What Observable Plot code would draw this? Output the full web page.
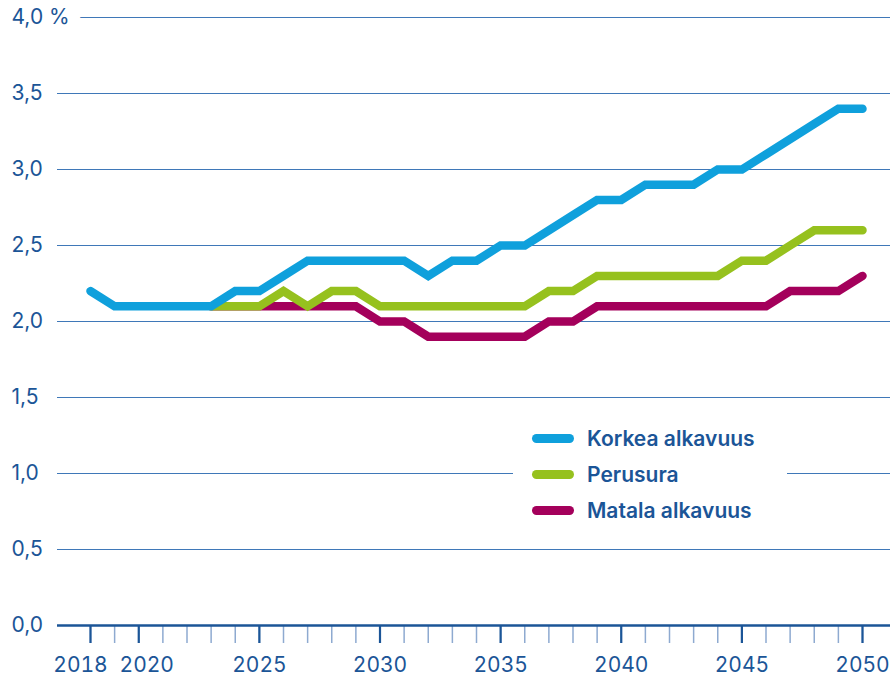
<!DOCTYPE html>
<html>
<head>
<meta charset="utf-8">
<script src="https://cdn.jsdelivr.net/npm/d3@7"></script>
<script src="https://cdn.jsdelivr.net/npm/@observablehq/plot@0.6"></script>
<style>
  html, body { margin: 0; padding: 0; background: #fff; }
  #wrap { position: relative; width: 890px; height: 690px; font-family: Inter, "Noto Sans", sans-serif; }
  #legend { position: absolute; left: 513px; top: 420px; width: 274px; height: 106px; background: #fff; }
  .item { position: absolute; left: 19px; height: 36px; display: flex; align-items: center; }
  .sw { width: 42px; height: 9px; border-radius: 5px; margin-right: 13px; }
  .lab { font-size: 21px; font-weight: 600; color: #1b5597; }
</style>
</head>
<body>
<div id="wrap"><div id="chart"></div><div id="legend"></div></div>
<script>
const years = [2018,2019,2020,2021,2022,2023,2024,2025,2026,2027,2028,2029,2030,2031,2032,2033,2034,2035,2036,2037,2038,2039,2040,2041,2042,2043,2044,2045,2046,2047,2048,2049,2050];
const korkea = [2.2,2.1,2.1,2.1,2.1,2.1,2.2,2.2,2.3,2.4,2.4,2.4,2.4,2.4,2.3,2.4,2.4,2.5,2.5,2.6,2.7,2.8,2.8,2.9,2.9,2.9,3.0,3.0,3.1,3.2,3.3,3.4,3.4];
const perusura = [null,null,null,null,null,2.1,2.1,2.1,2.2,2.1,2.2,2.2,2.1,2.1,2.1,2.1,2.1,2.1,2.1,2.2,2.2,2.3,2.3,2.3,2.3,2.3,2.3,2.4,2.4,2.5,2.6,2.6,2.6];
const matala = [null,null,null,null,null,2.1,2.1,2.1,2.1,2.1,2.1,2.1,2.0,2.0,1.9,1.9,1.9,1.9,1.9,2.0,2.0,2.1,2.1,2.1,2.1,2.1,2.1,2.1,2.1,2.2,2.2,2.2,2.3];
const seriesNames = ["Korkea alkavuus", "Perusura", "Matala alkavuus"];
const seriesColors = ["#0fa0dc", "#96c11e", "#a4005b"];
const yTicks = [0, 0.5, 1.0, 1.5, 2.0, 2.5, 3.0, 3.5, 4.0];
const yTickLabels = ["0,0","0,5","1,0","1,5","2,0","2,5","3,0","3,5","4,0 %"];
const xLabelYears = [2018, 2020, 2025, 2030, 2035, 2040, 2045, 2050];

const seriesValues = [korkea, perusura, matala];
const rows = [];
seriesNames.forEach((name, i) => {
  years.forEach((yr, j) => {
    const v = seriesValues[i][j];
    if (v != null) rows.push({series: name, year: yr, value: v});
  });
});
const drawOrder = [2, 1, 0];
const ink = "#1b5597";
const gridInk = "#3f78b8";

const yLab = yTicks.map((t, i) => ({t, label: yTickLabels[i]}));
const textStyle = {fill: ink, fontSize: 21, tickSize: 0, tickPadding: 32, stroke: "none", label: null, tickFormat: d => String(d)};

const chart = Plot.plot({
  width: 890,
  height: 690,
  marginLeft: 57,
  marginRight: 0,
  marginTop: 17,
  marginBottom: 65,
  style: {fontFamily: "Inter, 'Noto Sans', sans-serif", background: "#fff"},
  x: {domain: [2018 - 33/24.125, 2050 + 28/24.125], axis: null},
  y: {domain: [0, 4], axis: null},
  marks: [
    Plot.ruleY(yTicks.filter(t => t > 0), {stroke: gridInk, strokeWidth: 1}),
    Plot.text(yLab, {y: "t", text: "label", frameAnchor: "left", dx: -46, textAnchor: "start",
      fontSize: 21, fill: ink, stroke: "white", strokeWidth: 26, paintOrder: "stroke", strokeLinejoin: "round"}),
    Plot.axisX(years, {tickSize: 18, tickFormat: () => "", stroke: "#8eaad0", strokeWidth: 1.5, label: null}),
    Plot.axisX(xLabelYears, {tickSize: 18, tickFormat: () => "", stroke: ink, strokeWidth: 2.2, label: null}),
    Plot.axisX(xLabelYears.filter(y => y > 2020), textStyle),
    Plot.axisX([2018], {...textStyle, dx: -10}),
    Plot.axisX([2020], {...textStyle, dx: 8}),
    Plot.ruleY([0], {stroke: ink, strokeWidth: 2.6}),
    ...drawOrder.map(i => Plot.line(rows.filter(r => r.series === seriesNames[i]), {
      x: "year", y: "value", stroke: seriesColors[i], strokeWidth: 8.5,
      strokeLinecap: "round", strokeLinejoin: "miter", strokeMiterlimit: 2
    }))
  ]
});
document.getElementById("chart").appendChild(chart);

const legend = document.getElementById("legend");
seriesNames.forEach((name, i) => {
  const it = document.createElement("div");
  it.className = "item";
  it.style.top = (i * 36) + "px";
  it.innerHTML = `<div class="sw" style="background:${seriesColors[i]}"></div><div class="lab">${name}</div>`;
  legend.appendChild(it);
});
</script>
</body>
</html>
